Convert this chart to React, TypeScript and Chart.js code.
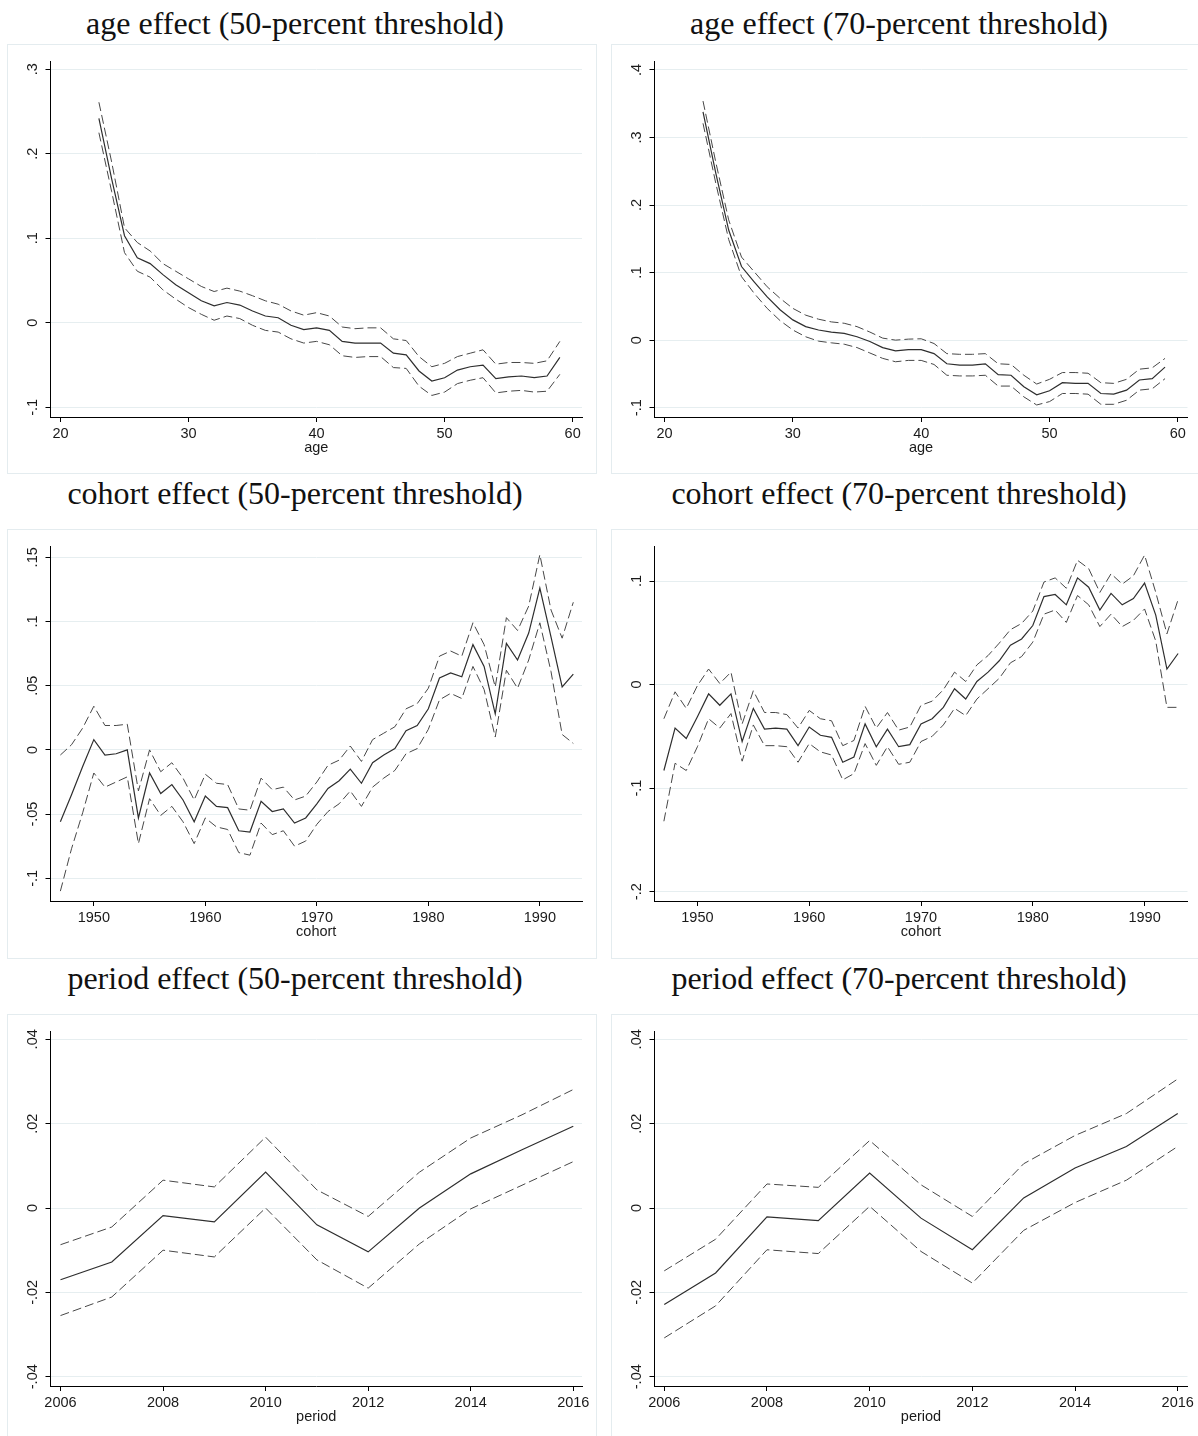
import React, { useEffect, useRef } from "react";
import { Chart, registerables } from "chart.js";

Chart.register(...registerables);

// ---------------- data ----------------
const ageYears = [23, 24, 25, 26, 27, 28, 29, 30, 31, 32, 33, 34, 35, 36, 37, 38, 39, 40, 41, 42, 43, 44, 45, 46, 47, 48, 49, 50, 51, 52, 53, 54, 55, 56, 57, 58, 59];
const ageTicks = [20, 30, 40, 50, 60];

const age50Est = [0.242, 0.170, 0.103, 0.077, 0.070, 0.057, 0.045, 0.0355, 0.026, 0.020, 0.024, 0.021, 0.014, 0.008, 0.006, -0.003, -0.008, -0.006, -0.009, -0.022, -0.024, -0.024, -0.024, -0.036, -0.038, -0.057, -0.069, -0.065, -0.056, -0.052, -0.050, -0.066, -0.064, -0.063, -0.065, -0.063, -0.041];
const age50Hi = [0.261, 0.190, 0.1125, 0.095, 0.085, 0.070, 0.061, 0.052, 0.043, 0.037, 0.041, 0.0375, 0.032, 0.026, 0.022, 0.014, 0.009, 0.012, 0.008, -0.005, -0.007, -0.006, -0.006, -0.019, -0.021, -0.040, -0.052, -0.048, -0.040, -0.036, -0.032, -0.049, -0.047, -0.047, -0.048, -0.045, -0.022];
const age50Lo = [0.225, 0.155, 0.083, 0.061, 0.054, 0.039, 0.028, 0.018, 0.010, 0.003, 0.008, 0.005, -0.003, -0.009, -0.011, -0.019, -0.024, -0.022, -0.026, -0.039, -0.041, -0.040, -0.040, -0.053, -0.054, -0.075, -0.086, -0.082, -0.072, -0.068, -0.065, -0.083, -0.081, -0.080, -0.082, -0.081, -0.061];
const age50YTicks = [-0.1, 0, 0.1, 0.2, 0.3];

const age70Est = [0.338, 0.247, 0.163, 0.109, 0.086, 0.064, 0.045, 0.030, 0.020, 0.015, 0.012, 0.010, 0.005, -0.002, -0.011, -0.016, -0.014, -0.014, -0.020, -0.035, -0.037, -0.037, -0.035, -0.051, -0.052, -0.069, -0.081, -0.075, -0.063, -0.064, -0.064, -0.079, -0.080, -0.074, -0.059, -0.057, -0.040];
const age70Hi = [0.354, 0.263, 0.178, 0.123, 0.101, 0.079, 0.062, 0.047, 0.037, 0.031, 0.027, 0.025, 0.020, 0.012, 0.003, 0.000, 0.0015, 0.002, -0.005, -0.020, -0.021, -0.021, -0.020, -0.035, -0.036, -0.052, -0.065, -0.058, -0.048, -0.048, -0.049, -0.063, -0.064, -0.058, -0.043, -0.041, -0.027];
const age70Lo = [0.321, 0.232, 0.149, 0.094, 0.069, 0.047, 0.029, 0.015, 0.005, -0.0015, -0.004, -0.006, -0.011, -0.019, -0.027, -0.032, -0.030, -0.030, -0.036, -0.052, -0.053, -0.053, -0.052, -0.068, -0.068, -0.084, -0.096, -0.091, -0.079, -0.079, -0.080, -0.095, -0.095, -0.089, -0.074, -0.072, -0.057];
const age70YTicks = [-0.1, 0, 0.1, 0.2, 0.3, 0.4];

const cohortYears = [1947, 1948, 1949, 1950, 1951, 1952, 1953, 1954, 1955, 1956, 1957, 1958, 1959, 1960, 1961, 1962, 1963, 1964, 1965, 1966, 1967, 1968, 1969, 1970, 1971, 1972, 1973, 1974, 1975, 1976, 1977, 1978, 1979, 1980, 1981, 1982, 1983, 1984, 1985, 1986, 1987, 1988, 1989, 1990, 1991, 1992, 1993];
const cohortTicks = [1950, 1960, 1970, 1980, 1990];

const coh50Est = [-0.056, -0.035, -0.013, 0.008, -0.004, -0.003, 0.000, -0.053, -0.018, -0.034, -0.027, -0.039, -0.056, -0.036, -0.044, -0.045, -0.063, -0.064, -0.040, -0.048, -0.046, -0.057, -0.053, -0.042, -0.030, -0.024, -0.015, -0.026, -0.010, -0.004, 0.001, 0.015, 0.019, 0.032, 0.056, 0.060, 0.057, 0.082, 0.065, 0.028, 0.083, 0.070, 0.091, 0.126, 0.088, 0.049, 0.059];
const coh50Hi = [-0.004, 0.004, 0.017, 0.034, 0.019, 0.019, 0.020, -0.032, 0.000, -0.017, -0.010, -0.022, -0.039, -0.019, -0.026, -0.027, -0.046, -0.047, -0.022, -0.031, -0.029, -0.039, -0.036, -0.025, -0.012, -0.008, 0.003, -0.009, 0.008, 0.013, 0.018, 0.032, 0.036, 0.048, 0.073, 0.077, 0.073, 0.099, 0.082, 0.049, 0.103, 0.093, 0.112, 0.152, 0.109, 0.087, 0.115];
const coh50Lo = [-0.110, -0.077, -0.049, -0.018, -0.029, -0.025, -0.021, -0.073, -0.038, -0.051, -0.044, -0.056, -0.073, -0.053, -0.060, -0.062, -0.080, -0.082, -0.057, -0.066, -0.063, -0.075, -0.071, -0.058, -0.048, -0.042, -0.032, -0.044, -0.029, -0.022, -0.016, -0.003, 0.001, 0.016, 0.039, 0.044, 0.040, 0.065, 0.047, 0.010, 0.062, 0.048, 0.070, 0.099, 0.061, 0.012, 0.005];
const coh50YTicks = [-0.1, -0.05, 0, 0.05, 0.1, 0.15];

const coh70Est = [-0.083, -0.042, -0.052, -0.031, -0.009, -0.020, -0.009, -0.055, -0.023, -0.043, -0.042, -0.043, -0.059, -0.041, -0.049, -0.051, -0.075, -0.070, -0.038, -0.060, -0.043, -0.060, -0.058, -0.038, -0.033, -0.022, -0.004, -0.014, 0.003, 0.012, 0.023, 0.038, 0.044, 0.057, 0.085, 0.087, 0.077, 0.103, 0.094, 0.072, 0.088, 0.077, 0.083, 0.098, 0.067, 0.015, 0.030];
const coh70Hi = [-0.033, -0.007, -0.023, -0.001, 0.015, 0.001, 0.012, -0.038, -0.006, -0.027, -0.027, -0.029, -0.042, -0.025, -0.033, -0.035, -0.059, -0.054, -0.021, -0.042, -0.027, -0.044, -0.041, -0.020, -0.016, -0.005, 0.012, 0.003, 0.019, 0.028, 0.040, 0.053, 0.059, 0.071, 0.099, 0.103, 0.093, 0.120, 0.112, 0.089, 0.107, 0.097, 0.105, 0.125, 0.089, 0.049, 0.082];
const coh70Lo = [-0.132, -0.076, -0.083, -0.060, -0.033, -0.042, -0.028, -0.074, -0.039, -0.059, -0.059, -0.060, -0.075, -0.057, -0.065, -0.068, -0.092, -0.086, -0.057, -0.078, -0.060, -0.077, -0.075, -0.055, -0.050, -0.039, -0.023, -0.030, -0.014, -0.004, 0.006, 0.021, 0.027, 0.041, 0.068, 0.072, 0.060, 0.086, 0.077, 0.056, 0.068, 0.056, 0.062, 0.073, 0.042, -0.022, -0.022];
const coh70YTicks = [-0.2, -0.1, 0, 0.1];

const periodYears = [2006, 2007, 2008, 2009, 2010, 2011, 2012, 2013, 2014, 2015, 2016];
const periodTicks = [2006, 2008, 2010, 2012, 2014, 2016];

const per50Est = [-0.017, -0.0128, -0.0018, -0.0033, 0.0085, -0.004, -0.0104, 0.000, 0.0081, 0.0138, 0.0194];
const per50Hi = [-0.0087, -0.0045, 0.0066, 0.005, 0.0168, 0.0043, -0.002, 0.0085, 0.0166, 0.0221, 0.0281];
const per50Lo = [-0.0255, -0.0211, -0.010, -0.0116, 0.000, -0.0123, -0.019, -0.0085, -0.0002, 0.0054, 0.011];

const per70Est = [-0.0229, -0.0154, -0.0021, -0.003, 0.0083, -0.0024, -0.0099, 0.0024, 0.0095, 0.0146, 0.0224];
const per70Hi = [-0.0149, -0.0074, 0.0057, 0.0049, 0.016, 0.0055, -0.002, 0.0105, 0.0172, 0.0224, 0.0306];
const per70Lo = [-0.0308, -0.0232, -0.0099, -0.0108, 0.0004, -0.0103, -0.0178, -0.0053, 0.0013, 0.0066, 0.0146];
const periodYTicks = [-0.04, -0.02, 0, 0.02, 0.04];

// ---------------- styling / layout ----------------
const SANS = '"Liberation Sans", Arial, Helvetica, sans-serif';
const SERIF = '"Liberation Serif", "Times New Roman", Times, serif';
const TICK_SIZE = 14.5;
const TITLE_SIZE = 32;
const BOX_W = 590;
const BOX_H = 430;
const AREA_TOP = 17;
const AREA_LEFT = 43.5;
const X_H = 40;
const TICK_LEN = 5;

function fmtY(v: number): string {
  const s = String(Number(v.toFixed(4)));
  return s.replace(/^(-?)0\./, "$1.");
}

type PanelCfg = {
  title: string;
  left: number;
  top: number;
  titleBaseline: number;
  areaRight: number;
  areaBottom: number;
  xLabel: string;
  xs: number[];
  est: number[];
  hi: number[];
  lo: number[];
  xTicks: number[];
  xMin: number;
  xMax: number;
  yTicks: number[];
  yMin: number;
  yMax: number;
};

const panels: PanelCfg[] = [
  { title: "age effect (50-percent threshold)", left: 7, top: 44, titleBaseline: 33.3, areaRight: 575, areaBottom: 373, xLabel: "age", xs: ageYears, est: age50Est, hi: age50Hi, lo: age50Lo, xTicks: ageTicks, xMin: 19.22, xMax: 60.73, yTicks: age50YTicks, yMin: -0.1115, yMax: 0.3098 },
  { title: "age effect (70-percent threshold)", left: 611, top: 44, titleBaseline: 33.3, areaRight: 576.5, areaBottom: 373, xLabel: "age", xs: ageYears, est: age70Est, hi: age70Hi, lo: age70Lo, xTicks: ageTicks, xMin: 19.22, xMax: 60.75, yTicks: age70YTicks, yMin: -0.1138, yMax: 0.4133 },
  { title: "cohort effect (50-percent threshold)", left: 7, top: 529, titleBaseline: 504, areaRight: 575, areaBottom: 372, xLabel: "cohort", xs: cohortYears, est: coh50Est, hi: coh50Hi, lo: coh50Lo, xTicks: cohortTicks, xMin: 1946.115, xMax: 1993.78, yTicks: coh50YTicks, yMin: -0.1177, yMax: 0.1588 },
  { title: "cohort effect (70-percent threshold)", left: 611, top: 529, titleBaseline: 504, areaRight: 576.5, areaBottom: 372, xLabel: "cohort", xs: cohortYears, est: coh70Est, hi: coh70Hi, lo: coh70Lo, xTicks: cohortTicks, xMin: 1946.16, xMax: 1993.84, yTicks: coh70YTicks, yMin: -0.209, yMax: 0.1338 },
  { title: "period effect (50-percent threshold)", left: 7, top: 1014, titleBaseline: 989, areaRight: 575, areaBottom: 372, xLabel: "period", xs: periodYears, est: per50Est, hi: per50Hi, lo: per50Lo, xTicks: periodTicks, xMin: 2005.805, xMax: 2016.17, yTicks: periodYTicks, yMin: -0.0422, yMax: 0.04197 },
  { title: "period effect (70-percent threshold)", left: 611, top: 1014, titleBaseline: 989, areaRight: 576.5, areaBottom: 372, xLabel: "period", xs: periodYears, est: per70Est, hi: per70Hi, lo: per70Lo, xTicks: periodTicks, xMin: 2005.81, xMax: 2016.19, yTicks: periodYTicks, yMin: -0.0422, yMax: 0.04197 },
];

function Panel({ cfg }: { cfg: PanelCfg }) {
  const ref = useRef<HTMLCanvasElement>(null);

  useEffect(() => {
    const canvas = ref.current;
    if (!canvas) return;
    const meas = document.createElement("canvas").getContext("2d")!;
    meas.font = `${TICK_SIZE}px ${SANS}`;
    const widest = Math.max(...cfg.yTicks.map((v) => meas.measureText(fmtY(v)).width));
    const padY = 17.5 - TICK_LEN - widest / 2;

    const pts = (arr: number[]) => cfg.xs.map((x, i) => ({ x, y: arr[i] }));
    const dashed = {
      borderColor: "#474747",
      borderWidth: 1,
      borderDash: [9, 4],
      pointRadius: 0,
      tension: 0,
      fill: false,
    };

    const chart = new Chart(canvas, {
      type: "line",
      data: {
        datasets: [
          { ...dashed, data: pts(cfg.hi) },
          { ...dashed, data: pts(cfg.lo) },
          { data: pts(cfg.est), borderColor: "#2e2e2e", borderWidth: 1.2, pointRadius: 0, tension: 0, fill: false },
        ],
      },
      options: {
        animation: false,
        responsive: false,
        maintainAspectRatio: false,
        devicePixelRatio: 1,
        layout: {
          padding: {
            left: 0,
            top: AREA_TOP,
            right: BOX_W - cfg.areaRight,
            bottom: BOX_H - cfg.areaBottom - X_H,
          },
        },
        plugins: { legend: { display: false }, tooltip: { enabled: false } },
        scales: {
          x: {
            type: "linear",
            min: cfg.xMin,
            max: cfg.xMax,
            bounds: "data",
            afterBuildTicks: (s: any) => {
              s.ticks = cfg.xTicks.map((v) => ({ value: v }));
            },
            afterFit: (s: any) => {
              s.height = X_H;
            },
            grid: { display: true, drawOnChartArea: false, drawTicks: true, tickLength: TICK_LEN, color: "#000", tickColor: "#000" },
            border: { display: true, color: "#000", width: 1 },
            ticks: {
              autoSkip: false,
              maxRotation: 0,
              minRotation: 0,
              padding: 3.5,
              color: "#1a1a1a",
              font: { family: SANS, size: TICK_SIZE },
              callback: (v: any) => String(v),
            },
            title: {
              display: true,
              text: cfg.xLabel,
              color: "#1a1a1a",
              font: { family: SANS, size: TICK_SIZE },
              padding: { top: 0, bottom: 0 },
            },
          },
          y: {
            type: "linear",
            min: cfg.yMin,
            max: cfg.yMax,
            bounds: "data",
            afterBuildTicks: (s: any) => {
              s.ticks = cfg.yTicks.map((v) => ({ value: v }));
            },
            afterFit: (s: any) => {
              s.width = AREA_LEFT;
            },
            grid: { display: true, drawOnChartArea: true, drawTicks: true, tickLength: TICK_LEN, color: "#e6eef0", tickColor: "#000", lineWidth: 1 },
            border: { display: true, color: "#000", width: 1 },
            ticks: {
              autoSkip: false,
              minRotation: 90,
              maxRotation: 90,
              crossAlign: "center",
              padding: padY,
              color: "#1a1a1a",
              font: { family: SANS, size: TICK_SIZE },
              callback: (v: any) => fmtY(Number(v)),
            },
          },
        },
      } as any,
    });
    return () => chart.destroy();
  }, [cfg]);

  return (
    <>
      <div
        style={{
          position: "absolute",
          left: cfg.left - 7,
          top: cfg.titleBaseline - 28.8,
          width: BOX_W,
          height: 36,
          lineHeight: "36px",
          fontFamily: SERIF,
          fontSize: TITLE_SIZE,
          color: "#111",
          textAlign: "center",
          whiteSpace: "nowrap",
        }}
      >
        {cfg.title}
      </div>
      <div
        style={{
          position: "absolute",
          left: cfg.left,
          top: cfg.top,
          width: BOX_W,
          height: BOX_H,
          boxSizing: "border-box",
          border: "1px solid #e4ecef",
        }}
      >
        <canvas
          ref={ref}
          width={BOX_W}
          height={BOX_H}
          style={{ position: "absolute", left: -1, top: -1, width: BOX_W, height: BOX_H }}
        />
      </div>
    </>
  );
}

export default function App() {
  return (
    <div
      style={{
        position: "absolute",
        left: 0,
        top: 0,
        width: 1198,
        height: 1436,
        overflow: "hidden",
        background: "#fff",
      }}
    >
      {panels.map((p) => (
        <Panel key={p.title} cfg={p} />
      ))}
    </div>
  );
}
